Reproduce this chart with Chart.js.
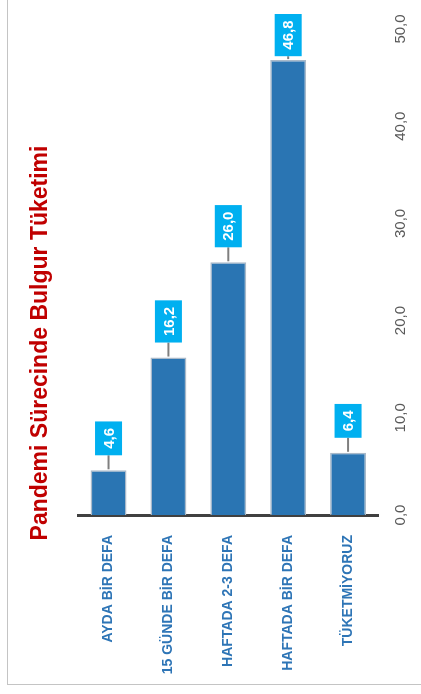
<!DOCTYPE html>
<html>
<head>
<meta charset="utf-8">
<script src="https://cdn.jsdelivr.net/npm/chart.js@4/dist/chart.umd.min.js"></script>
<style>
  html, body { margin: 0; padding: 0; background: #fff; }
  #frame { position: absolute; left: 7px; top: -2px; width: 420px; height: 686px;
           border-left: 1.5px solid #c4c4c4; border-bottom: 1.5px solid #c4c4c4; }
  #wrap { position: absolute; left: 0; top: 0; width: 421px; height: 694px; }
</style>
</head>
<body>
<div id="frame"></div>
<div id="wrap"><canvas id="chartBulgur"></canvas></div>
<script>
const categories = ['AYDA BİR DEFA', '15 GÜNDE BİR DEFA', 'HAFTADA 2-3 DEFA', 'HAFTADA BİR DEFA', 'TÜKETMİYORUZ'];
const values = [4.6, 16.2, 26.0, 46.8, 6.4];
const yTicks = [0, 10, 20, 30, 40, 50];

const fmt = v => v.toFixed(1).replace('.', ',');

// cyan boxes with leader lines above each bar, text reading bottom-to-top
const valueBoxes = {
  id: 'valueBoxes',
  afterLayout(chart) {
    // centre the vertical title on the whole frame, not the padded box
    chart.titleBlock.top = 0;
    chart.titleBlock.bottom = 686;
  },
  afterDatasetsDraw(chart) {
    const ctx = chart.ctx;
    const meta = chart.getDatasetMeta(0);
    ctx.save();
    ctx.font = 'bold 15px "Liberation Sans", Arial, sans-serif';
    meta.data.forEach((bar, i) => {
      const text = fmt(values[i]);
      const tw = ctx.measureText(text).width;
      const bw = 27, bh = tw + 13;
      let bottom = bar.y - 15;
      if (bottom - bh < 14) bottom = 14 + bh;
      ctx.strokeStyle = '#7f7f7f';
      ctx.lineWidth = 2;
      ctx.beginPath();
      ctx.moveTo(bar.x, bar.y - 1);
      ctx.lineTo(bar.x, bottom);
      ctx.stroke();
      ctx.fillStyle = '#00b0f0';
      ctx.fillRect(bar.x - bw / 2, bottom - bh, bw, bh);
      ctx.translate(bar.x, bottom - bh / 2);
      ctx.rotate(-Math.PI / 2);
      ctx.fillStyle = '#ffffff';
      ctx.textAlign = 'center';
      ctx.textBaseline = 'middle';
      ctx.fillText(text, 0, 1);
      ctx.setTransform(1, 0, 0, 1, 0, 0);
    });
    ctx.restore();
  }
};

new Chart(document.getElementById('chartBulgur'), {
  type: 'bar',
  data: {
    labels: categories,
    datasets: [{
      data: values,
      backgroundColor: '#2a75b3',
      borderColor: '#a9b9c9',
      borderWidth: 1.5,
      barPercentage: 0.6,
      categoryPercentage: 1.0
    }]
  },
  options: {
    responsive: true,
    maintainAspectRatio: false,
    animation: false,
    layout: { padding: { top: 29, bottom: 8, right: 0, left: 0 } },
    plugins: {
      legend: { display: false },
      tooltip: { enabled: false },
      title: {
        display: true,
        position: 'left',
        text: 'Pandemi Sürecinde Bulgur Tüketimi',
        color: '#c00000',
        font: { family: '"Liberation Sans", Arial, sans-serif', size: 23, weight: 'bold' },
        padding: { top: 27, bottom: 24 }
      }
    },
    scales: {
      x: {
        grid: { display: false },
        border: { display: true, color: '#404040', width: 3 },
        ticks: {
          color: '#2e75b6',
          font: { family: '"Liberation Sans", Arial, sans-serif', size: 14, weight: 'bold' },
          minRotation: 90,
          maxRotation: 90,
          padding: 12
        },
        afterFit(scale) { scale.height = 171; }
      },
      y: {
        position: 'right',
        min: 0,
        max: 50,
        afterBuildTicks(scale) { scale.ticks = yTicks.map(v => ({ value: v })); },
        grid: { display: false },
        border: { display: false },
        ticks: {
          color: '#595959',
          font: { family: '"Liberation Sans", Arial, sans-serif', size: 15 },
          minRotation: 90,
          maxRotation: 90,
          crossAlign: 'center',
          padding: 0,
          callback: v => fmt(v)
        },
        afterFit(scale) { scale.width = 43; }
      }
    }
  },
  plugins: [valueBoxes]
});
</script>
</body>
</html>
